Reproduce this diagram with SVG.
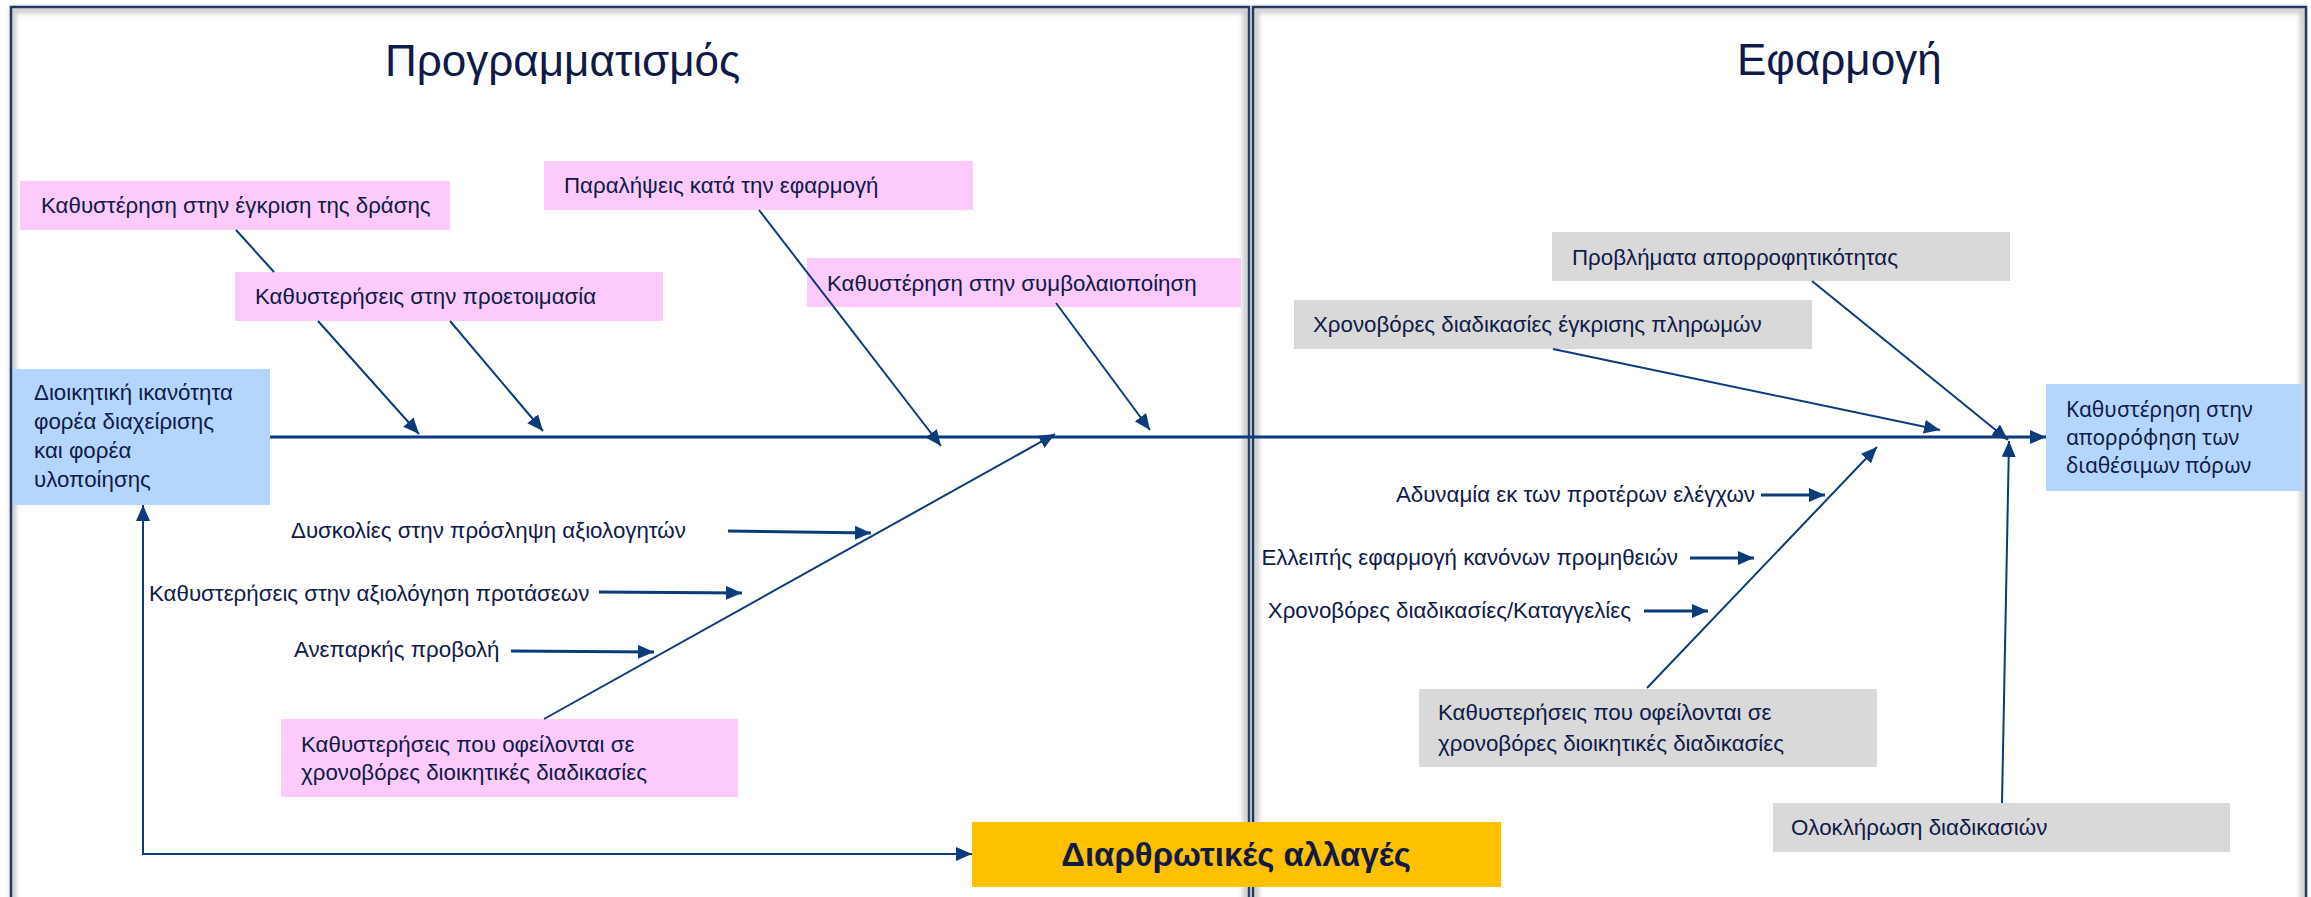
<svg xmlns="http://www.w3.org/2000/svg" width="2311" height="897" viewBox="0 0 2311 897">
<style>
  .panel { fill: none; stroke: #1f3864; stroke-width: 2.5; }
  .shadow { fill: none; stroke: #c8c8c8; stroke-width: 6; }
  .title { font-family: "Liberation Sans", Arial, sans-serif; font-size: 44px; fill: #0f1a48; }
  .lbl { font-family: "Liberation Sans", Arial, sans-serif; font-size: 22.3px; fill: #0f1a48; }
  .eff { font-family: "Noto Sans", "Open Sans", sans-serif; font-size: 21px; fill: #0f1a48; }
  .bold { font-family: "Liberation Sans", Arial, sans-serif; font-size: 33px; font-weight: bold; fill: #0f1a48; }
  .pink { fill: #fccbfc; }
  .grey { fill: #d9d9d9; }
  .blue { fill: #b4d6fd; }
  .orange { fill: #ffc000; }
  .ln { fill: none; stroke: #0b3b7a; stroke-width: 2; marker-end: url(#arr); }
  .spine { stroke-width: 2.8; }
  .hz { stroke-width: 3; }
</style>
<defs>
  <marker id="arr" viewBox="0 0 16 14" refX="16" refY="7" markerWidth="16" markerHeight="14" markerUnits="userSpaceOnUse" orient="auto-start-reverse">
    <path d="M0,0 L16,7 L0,14 Z" fill="#0b3b7a"/>
  </marker>
  <filter id="blur" x="-5%" y="-5%" width="110%" height="110%">
    <feGaussianBlur stdDeviation="2.5"/>
  </filter>
</defs>
<rect width="2311" height="897" fill="#ffffff"/>

<g id="panel-left">
  <rect class="shadow" x="13" y="10" width="1233" height="960" filter="url(#blur)"/>
  <rect class="panel" x="11" y="7" width="1238" height="960"/>
  <text class="title" x="385" y="76">Προγραμματισμός</text>
</g>
<g id="panel-right">
  <rect class="shadow" x="1256" y="10" width="1047" height="960" filter="url(#blur)"/>
  <rect class="panel" x="1253" y="7" width="1053" height="960"/>
  <text class="title" x="1737" y="75">Εφαρμογή</text>
</g>

<g id="n-egkrisi">
  <rect class="pink" x="20" y="181" width="430" height="49"/>
  <text class="lbl" x="41" y="213">Καθυστέρηση στην έγκριση της δράσης</text>
</g>
<g id="n-proetoimasia">
  <rect class="pink" x="235" y="272" width="428" height="49"/>
  <text class="lbl" x="255" y="304">Καθυστερήσεις στην προετοιμασία</text>
</g>
<g id="n-paraleipseis">
  <rect class="pink" x="544" y="161" width="429" height="49"/>
  <text class="lbl" x="564" y="193">Παραλήψεις κατά την εφαρμογή</text>
</g>
<g id="n-symvolaio">
  <rect class="pink" x="807" y="258" width="434" height="49"/>
  <text class="lbl" x="827" y="291">Καθυστέρηση στην συμβολαιοποίηση</text>
</g>
<g id="n-dioikitiki">
  <rect class="blue" x="13" y="369" width="257" height="136"/>
  <text class="lbl" x="34" y="400">Διοικητική ικανότητα</text>
  <text class="lbl" x="34" y="429">φορέα διαχείρισης</text>
  <text class="lbl" x="34" y="458">και φορέα</text>
  <text class="lbl" x="34" y="487">υλοποίησης</text>
</g>
<g id="n-dyskolies">
  <text class="lbl" x="291" y="538">Δυσκολίες στην πρόσληψη αξιολογητών</text>
</g>
<g id="n-axiologisi">
  <text class="lbl" x="149" y="601">Καθυστερήσεις στην αξιολόγηση προτάσεων</text>
</g>
<g id="n-provoli">
  <text class="lbl" x="294" y="657">Ανεπαρκής προβολή</text>
</g>
<g id="n-xronovores-left">
  <rect class="pink" x="281" y="719" width="457" height="78"/>
  <text class="lbl" x="301" y="752">Καθυστερήσεις που οφείλονται σε</text>
  <text class="lbl" x="301" y="780">χρονοβόρες διοικητικές διαδικασίες</text>
</g>
<g id="n-diarthrotikes">
  <rect class="orange" x="972" y="822" width="529" height="65"/>
  <text class="bold" x="1236" y="866" text-anchor="middle">Διαρθρωτικές αλλαγές</text>
</g>

<g id="n-provlimata">
  <rect class="grey" x="1552" y="232" width="458" height="49"/>
  <text class="lbl" x="1572" y="265">Προβλήματα απορροφητικότητας</text>
</g>
<g id="n-pliromes">
  <rect class="grey" x="1294" y="300" width="518" height="49"/>
  <text class="lbl" x="1313" y="332">Χρονοβόρες διαδικασίες έγκρισης πληρωμών</text>
</g>
<g id="n-adynamia">
  <text class="lbl" x="1755" y="502" text-anchor="end">Αδυναμία εκ των προτέρων ελέγχων</text>
</g>
<g id="n-elleipis">
  <text class="lbl" x="1678" y="565" text-anchor="end">Ελλειπής εφαρμογή κανόνων προμηθειών</text>
</g>
<g id="n-kataggelies">
  <text class="lbl" x="1631" y="618" text-anchor="end">Χρονοβόρες διαδικασίες/Καταγγελίες</text>
</g>
<g id="n-xronovores-right">
  <rect class="grey" x="1419" y="689" width="458" height="78"/>
  <text class="lbl" x="1438" y="720">Καθυστερήσεις που οφείλονται σε</text>
  <text class="lbl" x="1438" y="751">χρονοβόρες διοικητικές διαδικασίες</text>
</g>
<g id="n-oloklirosi">
  <rect class="grey" x="1773" y="803" width="457" height="49"/>
  <text class="lbl" x="1791" y="835">Ολοκλήρωση διαδικασιών</text>
</g>
<g id="n-aporrofisi">
  <rect class="blue" x="2046" y="384" width="257" height="107"/>
  <text class="eff" x="2066" y="417">Καθυστέρηση στην</text>
  <text class="eff" x="2066" y="445">απορρόφηση των</text>
  <text class="eff" x="2066" y="473">διαθέσιμων πόρων</text>
</g>

<g id="connectors">
  <path class="ln spine" d="M270,437 L2046,437"/>
  <path class="ln" d="M236,230 L274,272 M318,321 L419,434"/>
  <path class="ln" d="M450,321 L543,431"/>
  <path class="ln" d="M759,210 L941,446"/>
  <path class="ln" d="M1056,303 L1150,430"/>
  <path class="ln" d="M544,719 L1055,434"/>
  <path class="ln hz" d="M728,531 L871,533"/>
  <path class="ln hz" d="M599,592 L742,593"/>
  <path class="ln hz" d="M511,651 L654,652"/>
  <path class="ln" d="M143,505 L143,854 L972,854" style="marker-start:url(#arr)"/>
  <path class="ln" d="M1553,349 L1940,430"/>
  <path class="ln" d="M1812,281 L2008,440"/>
  <path class="ln" d="M2002,803 L2009,441"/>
  <path class="ln" d="M1647,688 L1877,447"/>
  <path class="ln hz" d="M1761,495 L1825,495"/>
  <path class="ln hz" d="M1690,558 L1754,558"/>
  <path class="ln hz" d="M1644,611 L1708,611"/>
</g>
</svg>
